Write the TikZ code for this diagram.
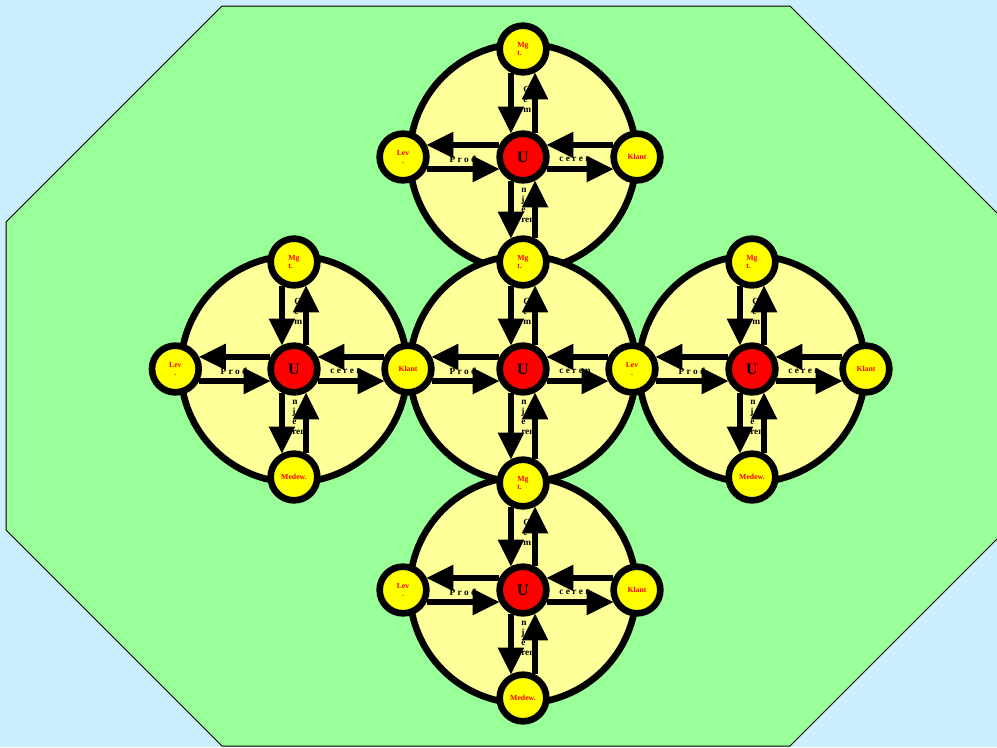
\documentclass[tikz,border=0pt]{standalone}
\usepackage{fontspec}
\setmainfont{Liberation Serif}
\usetikzlibrary{arrows.meta,positioning}
\definecolor{SkyBack}{HTML}{CCEEFF}
\definecolor{FieldGreen}{HTML}{99FF99}
\definecolor{RingYellow}{HTML}{FFFF99}
\definecolor{StationYellow}{HTML}{FFFF00}
\definecolor{HubRed}{HTML}{FF0000}
\definecolor{LabelRed}{HTML}{FF0000}

\begin{document}
\begin{tikzpicture}[
  x=0.75pt, y=-0.75pt,
  unitring/.style={draw, line width=5pt, fill=RingYellow},
  station/.style={circle, draw, line width=5pt, fill=StationYellow, minimum size=35pt, inner sep=0pt,
    font=\fontsize{5.8}{6.5}\selectfont\bfseries, text=LabelRed, align=center},
  mgt/.style={station, align=left},
  hubnode/.style={circle, draw, line width=5pt, fill=HubRed, minimum size=35pt, inner sep=0pt,
    font=\fontsize{12}{12}\selectfont\bfseries},
  tagtext/.style={inner sep=0pt, font=\fontsize{7}{7.5}\selectfont\bfseries, align=left},
  flowarrow/.style={-{Triangle[width=20pt, length=20pt, line width=0pt]}, line width=5pt}
]
  \useasboundingbox (0,0) rectangle (997,747);
  \fill[SkyBack] (0,0) rectangle (997,747);
  \draw[line width=0.75pt, fill=FieldGreen] (222,6) -- (790,6) -- (1006,222) -- (1006,530)
    -- (790,746) -- (222,746) -- (6,530) -- (6,222) -- cycle;

  \draw[unitring] (523,157) circle[radius=85pt];
  \draw[unitring] (294,369) circle[radius=85pt];
  \draw[unitring] (523,369) circle[radius=85pt];
  \draw[unitring] (752,369) circle[radius=85pt];
  \draw[unitring] (523,590) circle[radius=85pt];

  \node[hubnode] (uT) at (523,157) {U};
  \node[hubnode] (uL) at (294,369) {U};
  \node[hubnode] (uC) at (523,369) {U};
  \node[hubnode] (uR) at (752,369) {U};
  \node[hubnode] (uB) at (523,590) {U};

  \node[mgt, above=41pt of uT] (mgtT) {Mg\\t.};
  \node[station, left=50pt of uT] (levT) {Lev\\.};
  \node[station, right=45.5pt of uT] (klantT) {Klant};
  \node[mgt, below=38.75pt of uT] (mgtTC) {Mg\\t.};

  \node[mgt, above=40.25pt of uL] (mgtL) {Mg\\t.};
  \node[station, left=49pt of uL] (levL) {Lev\\.};
  \node[station, right=45.5pt of uL] (klantLC) {Klant};
  \node[station, below=41pt of uL] (medewL) {Medew.};

  \node[station, right=41.75pt of uC] (levCR) {Lev\\.};
  \node[mgt, below=45.5pt of uC] (mgtCB) {Mg\\t.};

  \node[mgt, above=40.25pt of uR] (mgtR) {Mg\\t.};
  \node[station, right=45.5pt of uR] (klantR) {Klant};
  \node[station, below=41pt of uR] (medewR) {Medew.};

  \node[station, left=50pt of uB] (levB) {Lev\\.};
  \node[station, right=45.5pt of uB] (klantB) {Klant};
  \node[station, below=41pt of uB] (medewB) {Medew.};

  \node[tagtext, xshift=-45pt, yshift=-2pt] (prodT) at (uT) {P r o d};
  \node[tagtext, xshift=39pt, yshift=-2pt] (cerenT) at (uT) {c e r e n};
  \node[tagtext, anchor=north west, yshift=53pt] (gemT) at (uT) {G\\e\\m};
  \node[tagtext, anchor=north west, xshift=-1.5pt, yshift=-23pt] (njerenT) at (uT) {n\\j\\e\\ren};
  \node[tagtext, xshift=-45pt, yshift=-2pt] (prodL) at (uL) {P r o d};
  \node[tagtext, xshift=39pt, yshift=-2pt] (cerenL) at (uL) {c e r e n};
  \node[tagtext, anchor=north west, yshift=53pt] (gemL) at (uL) {G\\e\\m};
  \node[tagtext, anchor=north west, xshift=-1.5pt, yshift=-23pt] (njerenL) at (uL) {n\\j\\e\\ren};
  \node[tagtext, xshift=-45pt, yshift=-2pt] (prodC) at (uC) {P r o d};
  \node[tagtext, xshift=39pt, yshift=-2pt] (cerenC) at (uC) {c e r e n};
  \node[tagtext, anchor=north west, yshift=53pt] (gemC) at (uC) {G\\e\\m};
  \node[tagtext, anchor=north west, xshift=-1.5pt, yshift=-23pt] (njerenC) at (uC) {n\\j\\e\\ren};
  \node[tagtext, xshift=-45pt, yshift=-2pt] (prodR) at (uR) {P r o d};
  \node[tagtext, xshift=39pt, yshift=-2pt] (cerenR) at (uR) {c e r e n};
  \node[tagtext, anchor=north west, yshift=53pt] (gemR) at (uR) {G\\e\\m};
  \node[tagtext, anchor=north west, xshift=-1.5pt, yshift=-23pt] (njerenR) at (uR) {n\\j\\e\\ren};
  \node[tagtext, xshift=-45pt, yshift=-2pt] (prodB) at (uB) {P r o d};
  \node[tagtext, xshift=39pt, yshift=-2pt] (cerenB) at (uB) {c e r e n};
  \node[tagtext, anchor=north west, yshift=53pt] (gemB) at (uB) {G\\e\\m};
  \node[tagtext, anchor=north west, xshift=-1.5pt, yshift=-23pt] (njerenB) at (uB) {n\\j\\e\\ren};

  \draw[flowarrow] (mgtT.-117) -- (uT.117);
  \draw[flowarrow] (uT.63) -- (mgtT.-63);
  \draw[flowarrow] (uT.153) -- (levT.27);
  \draw[flowarrow] (levT.-27) -- (uT.-153);
  \draw[flowarrow] (klantT.153) -- (uT.27);
  \draw[flowarrow] (uT.-27) -- (klantT.-153);
  \draw[flowarrow] (uT.-117) -- (mgtTC.117);
  \draw[flowarrow] (mgtTC.63) -- (uT.-63);

  \draw[flowarrow] (mgtL.-117) -- (uL.117);
  \draw[flowarrow] (uL.63) -- (mgtL.-63);
  \draw[flowarrow] (uL.153) -- (levL.27);
  \draw[flowarrow] (levL.-27) -- (uL.-153);
  \draw[flowarrow] (klantLC.153) -- (uL.27);
  \draw[flowarrow] (uL.-27) -- (klantLC.-153);
  \draw[flowarrow] (uL.-117) -- (medewL.117);
  \draw[flowarrow] (medewL.63) -- (uL.-63);

  \draw[flowarrow] (mgtTC.-117) -- (uC.117);
  \draw[flowarrow] (uC.63) -- (mgtTC.-63);
  \draw[flowarrow] (uC.153) -- (klantLC.27);
  \draw[flowarrow] (klantLC.-27) -- (uC.-153);
  \draw[flowarrow] (levCR.153) -- (uC.27);
  \draw[flowarrow] (uC.-27) -- (levCR.-153);
  \draw[flowarrow] (uC.-117) -- (mgtCB.117);
  \draw[flowarrow] (mgtCB.63) -- (uC.-63);

  \draw[flowarrow] (mgtR.-117) -- (uR.117);
  \draw[flowarrow] (uR.63) -- (mgtR.-63);
  \draw[flowarrow] (uR.153) -- (levCR.27);
  \draw[flowarrow] (levCR.-27) -- (uR.-153);
  \draw[flowarrow] (klantR.153) -- (uR.27);
  \draw[flowarrow] (uR.-27) -- (klantR.-153);
  \draw[flowarrow] (uR.-117) -- (medewR.117);
  \draw[flowarrow] (medewR.63) -- (uR.-63);

  \draw[flowarrow] (mgtCB.-117) -- (uB.117);
  \draw[flowarrow] (uB.63) -- (mgtCB.-63);
  \draw[flowarrow] (uB.153) -- (levB.27);
  \draw[flowarrow] (levB.-27) -- (uB.-153);
  \draw[flowarrow] (klantB.153) -- (uB.27);
  \draw[flowarrow] (uB.-27) -- (klantB.-153);
  \draw[flowarrow] (uB.-117) -- (medewB.117);
  \draw[flowarrow] (medewB.63) -- (uB.-63);
\end{tikzpicture}
\end{document}
